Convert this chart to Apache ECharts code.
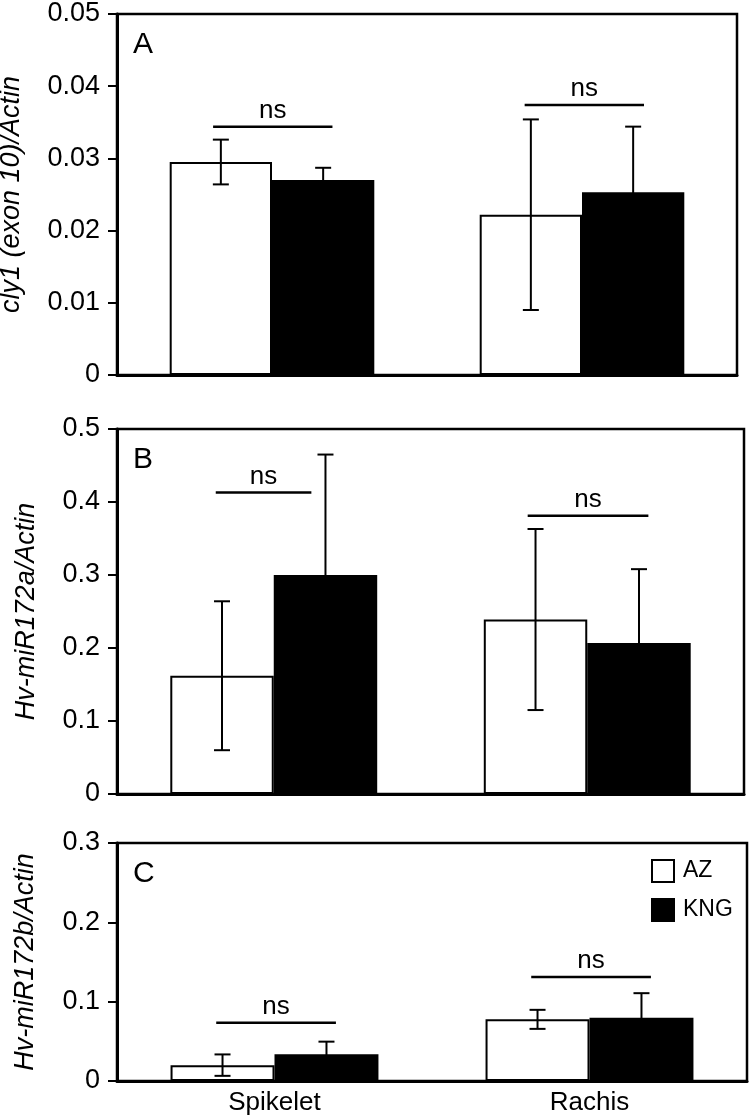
<!DOCTYPE html>
<html>
<head>
<meta charset="utf-8">
<script src="https://cdn.jsdelivr.net/npm/echarts@6/dist/echarts.min.js"></script>
<style>
  html, body { margin: 0; padding: 0; background: #fff; }
  #chart { width: 750px; height: 1120px; }
</style>
</head>
<body>
<div id="chart"></div>
<script>
// categories
const categories = ['Spikelet', 'Rachis']

// panel A: cly1 (exon 10)/Actin
const cly1AZ = [0.0295, 0.0222]
const cly1AZErr = [0.0031, 0.0132]
const cly1KNG = [0.0270, 0.0253]
const cly1KNGErr = [0.0017, 0.0091]

// panel B: Hv-miR172a/Actin
const mir172aAZ = [0.162, 0.239]
const mir172aAZErr = [0.102, 0.124]
const mir172aKNG = [0.300, 0.207]
const mir172aKNGErr = [0.165, 0.101]

// panel C: Hv-miR172b/Actin
const mir172bAZ = [0.020, 0.0777]
const mir172bAZErr = [0.0135, 0.012]
const mir172bKNG = [0.0336, 0.0797]
const mir172bKNGErr = [0.016, 0.031]

// height of the "ns" bars (data units)
const nsA = [0.0344, 0.0374]
const nsB = [0.413, 0.381]
const nsC = [0.0734, 0.131]

const yMax = [0.05, 0.5, 0.3]
const yStep = [0.01, 0.1, 0.1]
const yNames = ['cly1 (exon 10)/Actin', 'Hv-miR172a/Actin', 'Hv-miR172b/Actin']
const panelLetters = ['A', 'B', 'C']

const FONT = 'Liberation Sans, Arial, Helvetica, sans-serif'

// span of the ns line, as fraction of category width (left, right)
const nsSpan = [
  [[-0.19, 0.195], [-0.185, 0.2]],
  [[-0.185, 0.12], [-0.19, 0.195]],
  [[-0.185, 0.195], [-0.185, 0.195]]
]

const grids = [
  { left: 117, top: 14, width: 620, height: 361 },
  { left: 117, top: 429, width: 627, height: 365 },
  { left: 117, top: 843, width: 630, height: 238 }
]
const nameGaps = [92, 77, 78]

const panels = [
  { az: cly1AZ, azErr: cly1AZErr, kng: cly1KNG, kngErr: cly1KNGErr, ns: nsA },
  { az: mir172aAZ, azErr: mir172aAZErr, kng: mir172aKNG, kngErr: mir172aKNGErr, ns: nsB },
  { az: mir172bAZ, azErr: mir172bAZErr, kng: mir172bKNG, kngErr: mir172bKNGErr, ns: nsC }
]

const BAR_GAP = 0.34
const OFF = (1 - BAR_GAP) / 4   // centre of each bar from category centre

function errRender(params, api) {
  const ci = api.value(0), m = api.value(1), e = api.value(2), side = api.value(3)
  const cw = api.size([1, 0])[0]
  const x = api.coord([ci, 0])[0] + side * cw * OFF
  const yt = api.coord([ci, m + e])[1]
  const yb = api.coord([ci, m - e])[1]
  const st = { stroke: '#000', lineWidth: 2 }
  return {
    type: 'group',
    children: [
      { type: 'line', shape: { x1: x, y1: yt, x2: x, y2: yb }, style: st },
      { type: 'line', shape: { x1: x - 8, y1: yt, x2: x + 8, y2: yt }, style: st },
      { type: 'line', shape: { x1: x - 8, y1: yb, x2: x + 8, y2: yb }, style: st }
    ]
  }
}

function nsRender(pi) {
  return function (params, api) {
    const ci = api.value(0), y = api.value(1)
    const cw = api.size([1, 0])[0]
    const p = api.coord([ci, y])
    const span = nsSpan[pi][ci]
    const x1 = p[0] + span[0] * cw, x2 = p[0] + span[1] * cw
    return {
      type: 'group',
      children: [
        { type: 'line', shape: { x1: x1, y1: p[1], x2: x2, y2: p[1] }, style: { stroke: '#000', lineWidth: 2.5 } },
        { type: 'text', style: { x: (x1 + x2) / 2, y: p[1] - 3, text: 'ns', fill: '#000',
          font: '26px ' + FONT, align: 'center', verticalAlign: 'bottom' } }
      ]
    }
  }
}

const xAxis = [], yAxis = [], series = [], graphic = []

grids.forEach((g, i) => {
  g.show = true
  g.borderColor = '#000'
  g.borderWidth = 2.5
  g.containLabel = false
  g.outerBoundsMode = 'none'

  xAxis.push({
    type: 'category', gridIndex: i, data: categories,
    axisLine: { lineStyle: { color: '#000', width: 3 } },
    axisTick: { show: false },
    axisLabel: { show: i === 2, color: '#000', fontSize: 26, fontFamily: FONT, margin: 9 }
  })
  yAxis.push({
    type: 'value', gridIndex: i, min: 0, max: yMax[i], interval: yStep[i],
    name: yNames[i], nameLocation: 'middle', nameGap: nameGaps[i],
    nameTextStyle: { color: '#000', fontSize: 27, fontStyle: 'italic', fontFamily: FONT },
    axisLine: { show: true, lineStyle: { color: '#000', width: 3 } },
    axisTick: { show: true, length: 9, lineStyle: { color: '#000', width: 2 } },
    splitLine: { show: false },
    axisLabel: { color: '#000', fontSize: 27, fontFamily: FONT, margin: 17 }
  })

  const p = panels[i]
  series.push({
    name: 'AZ', type: 'bar', xAxisIndex: i, yAxisIndex: i, data: p.az,
    barGap: '0%', barCategoryGap: '34%',
    itemStyle: { color: '#fff', borderColor: '#000', borderWidth: 2 }
  })
  series.push({
    name: 'KNG', type: 'bar', xAxisIndex: i, yAxisIndex: i, data: p.kng,
    barGap: '0%', barCategoryGap: '34%',
    itemStyle: { color: '#000', borderColor: '#000', borderWidth: 2 }
  })
  const errData = []
  categories.forEach((c, ci) => {
    errData.push([ci, p.az[ci], p.azErr[ci], -1])
    errData.push([ci, p.kng[ci], p.kngErr[ci], 1])
  })
  series.push({
    type: 'custom', xAxisIndex: i, yAxisIndex: i, z: 5,
    renderItem: errRender, data: errData, silent: true
  })
  series.push({
    type: 'custom', xAxisIndex: i, yAxisIndex: i, z: 5,
    renderItem: nsRender(i), data: p.ns.map((v, ci) => [ci, v]), silent: true
  })

  graphic.push({
    type: 'text', left: g.left + 16, top: g.top + 16,
    style: { text: panelLetters[i], fill: '#000', font: '30px ' + FONT }
  })
})

const chart = echarts.init(document.getElementById('chart'), null, { renderer: 'canvas' })
chart.setOption({
  animation: false,
  backgroundColor: '#fff',
  grid: grids,
  xAxis: xAxis,
  yAxis: yAxis,
  legend: {
    data: ['AZ', 'KNG'], orient: 'vertical', left: 651, top: 859, padding: 0,
    icon: 'rect', itemWidth: 22, itemHeight: 22, itemGap: 15,
    textStyle: { color: '#000', fontSize: 23, fontFamily: FONT, padding: [0, 0, 0, 4] },
    selectedMode: false
  },
  graphic: graphic,
  series: series
})
</script>
</body>
</html>
